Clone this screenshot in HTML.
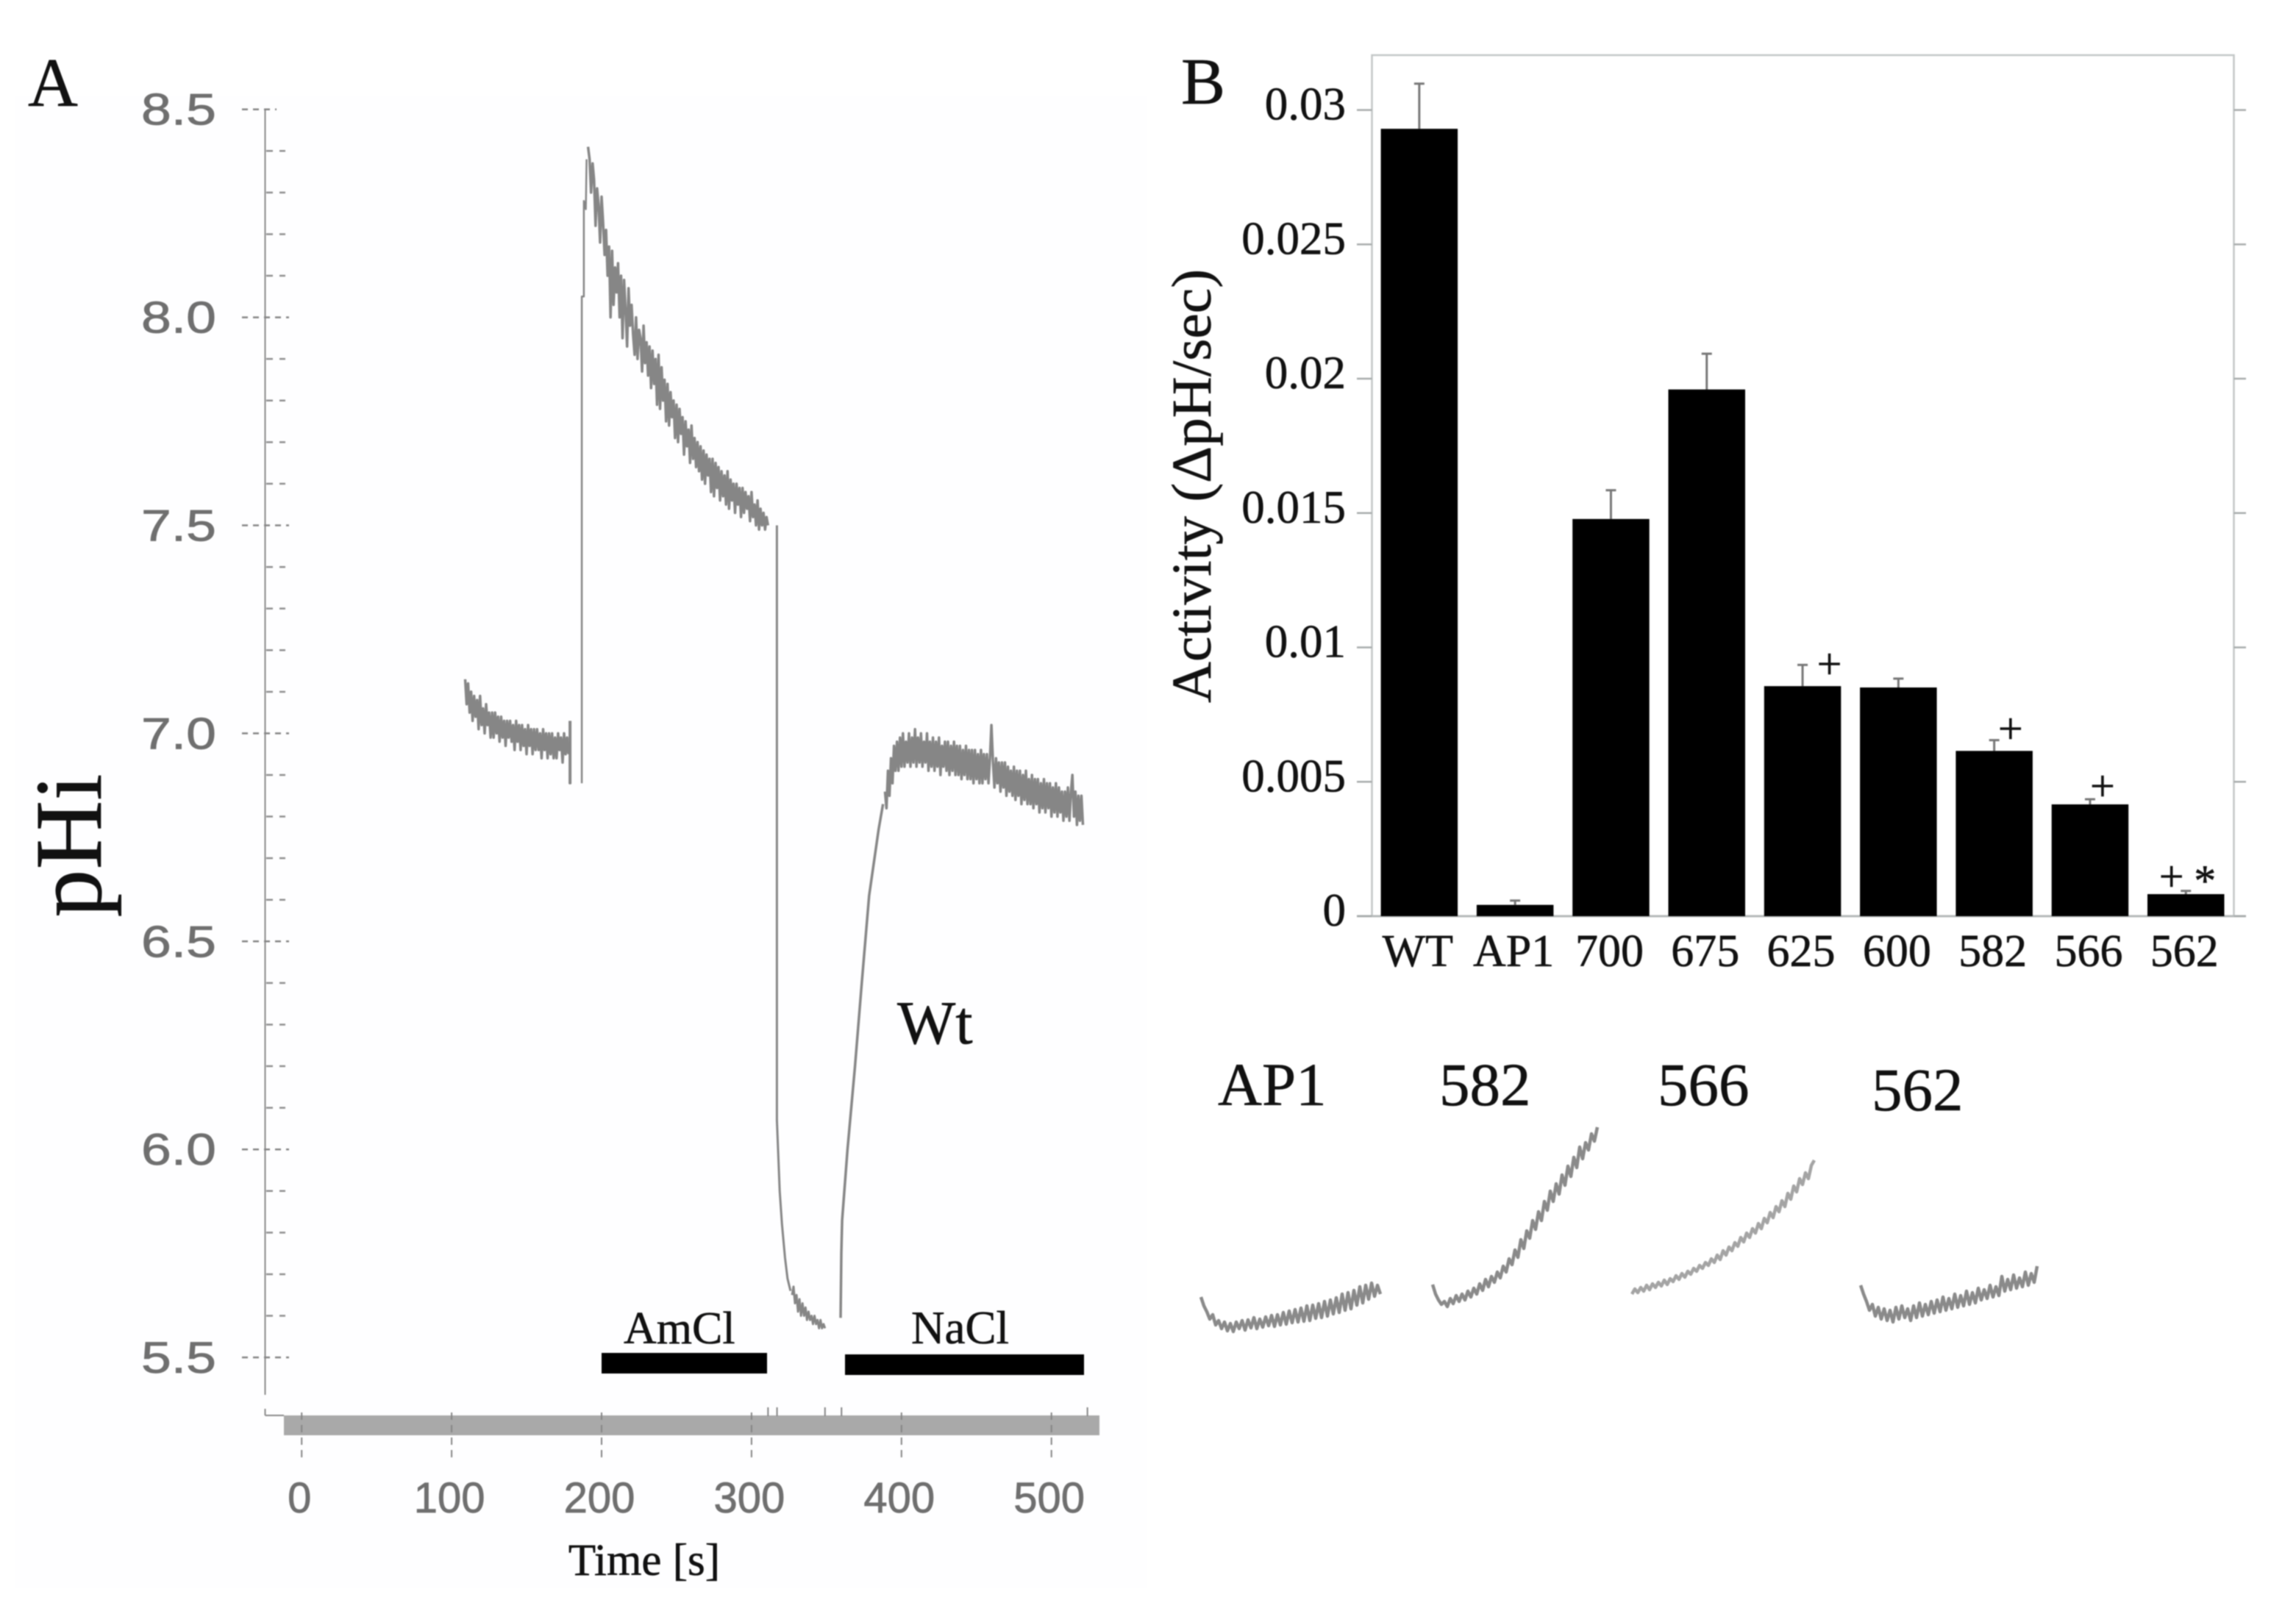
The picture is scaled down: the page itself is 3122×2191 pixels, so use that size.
<!DOCTYPE html>
<html lang="en">
<head>
<meta charset="utf-8">
<title>Intracellular pH recovery and activity of truncation mutants</title>
<style>
html,body{margin:0;padding:0;background:#fff;}
svg{display:block;filter:blur(0.7px);}
text{font-family:"Liberation Serif","DejaVu Serif",serif;fill:#111;stroke:#111;stroke-width:0.6px;}
.sans{font-family:"Liberation Sans","DejaVu Sans",sans-serif;fill:#6f6f6f;stroke:#6f6f6f;stroke-width:0.8px;}
</style>
</head>
<body>
<svg id="figure" xmlns="http://www.w3.org/2000/svg" width="3122" height="2191" viewBox="0 0 3122 2191">
  <rect x="0" y="0" width="3122" height="2191" fill="#ffffff"/>
  <rect x="20" y="130" width="1540" height="2030" fill="#fefeff"/>
  <g id="panel-a"></g>
  <g id="panel-b"></g>
  <g id="insets"></g>

  <text x="38" y="144" font-size="94">A</text>
  <text x="1606" y="141" font-size="90">B</text>
  <text transform="translate(137 1150) rotate(-90)" text-anchor="middle" font-size="130">pHi</text>
  <text x="876" y="2142" text-anchor="middle" font-size="61">Time [s]</text>
  <text x="1220" y="1419" font-size="84">Wt</text>
  <text x="848" y="1827" font-size="62">AmCl</text>
  <text x="1239" y="1827" font-size="63">NaCl</text>
  <rect x="818" y="1840" width="225" height="28" fill="#000"/>
  <rect x="1149" y="1842" width="325" height="28" fill="#000"/>
  <text transform="translate(1646 661) rotate(-90)" text-anchor="middle" font-size="76" textLength="590" lengthAdjust="spacingAndGlyphs">Activity (ΔpH/sec)</text>
  <text x="1656" y="1503" font-size="83">AP1</text>
  <text x="1957" y="1503" font-size="83">582</text>
  <text x="2254" y="1503" font-size="83">566</text>
  <text x="2545" y="1510" font-size="83">562</text>
</svg>

<script>
// ---- Panel A data: pH trace of wild type over time ----
const timeTicks = [0, 100, 200, 300, 400, 500];
const phTicks = [8.5, 8.0, 7.5, 7.0, 6.5, 6.0, 5.5];
const phTickLabels = ['8.5', '8.0', '7.5', '7.0', '6.5', '6.0', '5.5'];
const eventTimes = [311, 317, 349, 360, 524];

const restStart = 109;
const restPh = [7.13,7.07,7.12,7.05,7.10,7.03,7.09,7.04,7.08,7.01,
7.09,7.02,7.06,7.00,7.07,7.02,7.05,6.99,7.05,6.99,
7.05,7.00,7.04,6.98,7.04,6.99,7.03,6.97,7.03,6.99,
7.03,6.98,7.02,6.96,7.03,6.98,7.02,6.96,7.02,6.97,
7.01,6.95,7.02,6.97,7.01,6.95,7.01,6.96,7.01,6.96,
7.00,6.94,7.01,6.96,7.00,6.94,7.00,6.95,7.00,6.94,
6.99,6.94,7.00,6.96,6.99,6.93,7.00,6.95,6.99,6.95];

const artifactTime = [178.7, 178.7, 179.2, 179.2];
const artifactPh = [7.03, 6.88, 6.88, 7.03];

const riseTime = [186.8, 186.8, 188.2, 188.2, 189.5, 190];
const risePh = [6.88, 8.05, 8.05, 8.28, 8.26, 8.38];

const decayStart = 191;
const decayPh = [8.41,8.38,8.30,8.37,8.33,8.22,8.31,8.27,8.18,8.29,
8.23,8.15,8.21,8.10,8.17,8.00,8.16,8.03,8.12,8.06,
8.13,8.00,8.10,7.95,8.09,8.02,7.93,8.07,7.98,8.03,
7.96,7.91,8.00,7.90,7.97,7.95,7.87,7.98,7.89,7.94,
7.86,7.93,7.83,7.92,7.84,7.90,7.79,7.91,7.78,7.88,
7.80,7.85,7.75,7.84,7.74,7.82,7.76,7.80,7.71,7.79,
7.70,7.78,7.72,7.76,7.67,7.75,7.69,7.73,7.65,7.74,
7.66,7.71,7.64,7.70,7.63,7.69,7.61,7.68,7.60,7.67,
7.62,7.66,7.58,7.66,7.57,7.65,7.59,7.64,7.56,7.63,
7.57,7.62,7.55,7.63,7.54,7.61,7.56,7.60,7.53,7.60,
7.55,7.59,7.52,7.59,7.53,7.58,7.54,7.57,7.51,7.58,
7.52,7.55,7.50,7.56,7.49,7.54,7.50,7.53,7.49,7.52,7.50];

const dropTime = [316.9, 316.9, 318.8, 320.3, 322.3, 324, 326];
const dropPh = [7.50, 6.07, 5.90, 5.82, 5.74, 5.69, 5.66];

const troughStart = 327;
const troughPh = [5.65,5.67,5.63,5.65,5.61,5.64,5.60,5.63,5.60,5.62,5.59,5.61,5.59,5.60,5.58,5.60,5.58,5.59,5.57,5.59,5.57,5.58,5.57];

const recoveryTime = [359.4, 359.9, 360.4, 364, 369, 373.5, 378.4, 384.8, 387.7];
const recoveryPh = [5.595, 5.75, 5.83, 6.0, 6.2, 6.4, 6.61, 6.77, 6.83];

const plateauStart = 389;
const plateauPh = [6.86,6.82,6.91,6.85,6.94,6.88,6.97,6.91,6.98,6.91,
6.99,6.92,7.00,6.92,6.98,6.93,7.00,6.92,6.99,6.93,
7.01,6.92,6.99,6.93,7.00,6.92,6.98,6.93,7.00,6.91,
6.98,6.92,6.99,6.91,6.98,6.92,6.99,6.90,6.97,6.92,
6.98,6.91,6.98,6.90,6.97,6.91,6.98,6.90,6.97,6.90,
6.97,6.89,6.96,6.90,6.97,6.89,6.96,6.89,6.96,6.88,
6.96,6.89,6.95,6.88,6.96,6.88,6.95,6.89,6.95,6.88,
6.94,7.02,6.93,6.87,6.94,6.88,6.93,6.86,6.93,6.87,
6.93,6.85,6.92,6.86,6.91,6.85,6.92,6.84,6.91,6.85,
6.91,6.83,6.90,6.84,6.91,6.83,6.89,6.83,6.90,6.82,
6.89,6.83,6.89,6.81,6.88,6.82,6.89,6.81,6.88,6.82,
6.88,6.80,6.87,6.81,6.88,6.80,6.87,6.81,6.86,6.79,
6.86,6.80,6.87,6.79,6.86,6.90,6.80,6.86,6.78,6.85,
6.79,6.85,6.78];

// ---- Panel B data: activity per construct ----
const constructs = ['WT', 'AP1', '700', '675', '625', '600', '582', '566', '562'];
const activity = [0.0293, 0.00042, 0.01478, 0.0196, 0.00856, 0.00851, 0.00615, 0.00416, 0.00082];
const activityErrorTop = [0.03098, 0.00058, 0.01585, 0.02093, 0.00935, 0.00884, 0.00655, 0.00435, 0.00094];
const activityTicks = [0.03, 0.025, 0.02, 0.015, 0.01, 0.005, 0];
const activityTickLabels = ['0.03', '0.025', '0.02', '0.015', '0.01', '0.005', '0'];

const markerConstruct = ['625', '582', '566', '562', '562'];
const markerGlyph = ['+', '+', '+', '+', '*'];
const markerValue = [0.00939, 0.00698, 0.00484, 0.00148, 0.00148];
const markerBandShift = [0.28, 0.17, 0.13, -0.15, 0.2];

// ---- Inset data: signal samples of four mutant traces ----
const insetNames = ['ap1', '582', '566', '562'];
const insetStartSignal = [1633, 1948, 2219, 2530];
const signalAp1 = [46,34,26,16,22,8,14,3,12,0,10,-1,12,3,14,1,15,4,18,3,16,5,19,7,21,6,22,8,25,9,27,11,29,12,31,13,34,14,35,17,37,18,40,20,42,23,45,25,50,28,52,30,55,35,60,38,62,43,65,47,62,50];
const signal582 = [63,50,42,36,40,33,44,37,48,40,50,42,54,46,58,50,64,55,70,60,74,66,80,72,88,80,98,90,110,100,124,112,136,126,150,138,162,150,176,164,190,176,200,186,212,198,224,210,236,222,250,234,256,246,268,258,277];
const signal566 = [50,57,52,59,54,62,56,64,59,66,61,69,63,71,67,75,70,78,73,81,77,85,81,89,85,93,89,98,93,103,97,109,103,114,109,120,115,127,121,133,127,139,133,146,139,153,147,161,154,169,162,177,169,187,179,197,189,207,199,215,207,225,232];
const signal562 = [62,50,40,28,36,20,32,16,30,14,28,12,32,16,34,18,30,14,34,18,38,20,36,22,40,24,42,26,46,28,44,30,50,32,48,34,54,36,52,38,58,42,56,44,62,46,60,48,74,54,70,56,76,58,72,60,80,62,78,66,88];
const insetSignals = [signalAp1, signal582, signal566, signal562];

// ---- Axis functions ----
const SVGNS = 'http://www.w3.org/2000/svg';
const xTime = t => 410.2 + 2.039 * t;
const yPh = p => 148.7 + (8.5 - p) * 565.8;
const yActivity = v => 1246 - v * 36547;
const bandLeft = i => 1877.6 + i * 130.3;
const BAR_W = 104.5;
const xSample = (start, i) => start + i * 4;
const ySignal = s => 1810 - s;

function make(parent, tag, attrs, txt) {
  const node = document.createElementNS(SVGNS, tag);
  for (const k in attrs) node.setAttribute(k, attrs[k]);
  if (txt !== undefined) node.textContent = txt;
  parent.appendChild(node);
  return node;
}
const toPoints = (ts, ps) => ts.map((t, i) => xTime(t).toFixed(1) + ',' + yPh(ps[i]).toFixed(1)).join(' ');
const seqPoints = (start, ps) => ps.map((p, i) => xTime(start + i).toFixed(1) + ',' + yPh(p).toFixed(1)).join(' ');

// ---- Panel A ----
const A = document.getElementById('panel-a');
let n;

n = make(A, 'line', {x1: 360.5, x2: 360.5, y1: 148, y2: 1897, stroke: '#8a8a8a', 'stroke-width': 2});



const minorSteps = 5;
phTicks.forEach((p, i) => {
  const y = yPh(p);
  const major = make(A, 'line', {x1: 329, x2: i === 0 ? 376 : 393, y1: y, y2: y, stroke: '#858585', 'stroke-width': 2.5, 'stroke-dasharray': '8 7'});
  
  
  const label = make(A, 'text', {x: 192, y: y + 21, 'font-size': 60, textLength: 102, lengthAdjust: 'spacingAndGlyphs', class: 'sans'}, phTickLabels[i]);
  
  
  if (i < phTicks.length - 1) {
    for (let m = 1; m < minorSteps; m++) {
      const ym = y + (yPh(phTicks[i + 1]) - y) * m / minorSteps;
      const minor = make(A, 'line', {x1: 362, x2: 388, y1: ym, y2: ym, stroke: '#8f8f8f', 'stroke-width': 2.5, 'stroke-dasharray': '9 9'});
      
      
    }
  }
});

n = make(A, 'rect', {x: 386, y: 1925, width: 1109, height: 27, fill: '#a9a9a9'});


n = make(A, 'line', {x1: 360.5, x2: 386, y1: 1925, y2: 1925, stroke: '#8a8a8a', 'stroke-width': 2});


n = make(A, 'line', {x1: 360.5, x2: 360.5, y1: 1916, y2: 1925, stroke: '#8a8a8a', 'stroke-width': 2});



timeTicks.forEach(t => {
  const x = xTime(t);
  const tick = make(A, 'line', {x1: x, x2: x, y1: 1921, y2: 1982, stroke: '#858585', 'stroke-width': 2, 'stroke-dasharray': '10 7'});
  
  
  const label = make(A, 'text', {x: x - 3, y: 2057, 'font-size': 58, 'text-anchor': 'middle', class: 'sans'}, String(t));
  
  
});
eventTimes.forEach(t => {
  const x = xTime(t);
  const tick = make(A, 'line', {x1: x, x2: x, y1: 1914, y2: 1926, stroke: '#858585', 'stroke-width': 2});
  
  
});

const tracePieces = [
  ['trace-resting', seqPoints(restStart, restPh), 3.5],
  ['trace-artifact', toPoints(artifactTime, artifactPh), 3],
  ['trace-ammonium-rise', toPoints(riseTime, risePh), 2.5],
  ['trace-decay', seqPoints(decayStart, decayPh), 3.5],
  ['trace-drop', toPoints(dropTime, dropPh), 3],
  ['trace-trough', seqPoints(troughStart, troughPh), 3],
  ['trace-recovery', toPoints(recoveryTime, recoveryPh), 3.5],
  ['trace-plateau', seqPoints(plateauStart, plateauPh), 3.5]
];
tracePieces.forEach(piece => {
  const line = make(A, 'polyline', {points: piece[1], fill: 'none', stroke: '#868686', 'stroke-width': piece[2], 'stroke-linejoin': 'round'});
  
  
});

// ---- Panel B ----
const B = document.getElementById('panel-b');
n = make(B, 'path', {d: 'M1865.5 1246V75H3037.5V1246', fill: 'none', stroke: '#c3c7c7', 'stroke-width': 2.5});


n = make(B, 'line', {x1: 1845, x2: 3054, y1: 1246, y2: 1246, stroke: '#b5b9b9', 'stroke-width': 3});



activityTicks.forEach((v, i) => {
  const y = yActivity(v);
  const left = make(B, 'line', {x1: 1845, x2: 1865.5, y1: y, y2: y, stroke: '#a8acac', 'stroke-width': 2.5});
  
  
  const right = make(B, 'line', {x1: 3037.5, x2: 3054, y1: y, y2: y, stroke: '#a8acac', 'stroke-width': 2.5});
  
  
  const label = make(B, 'text', {x: 1830, y: y + 13, 'font-size': 63, 'text-anchor': 'end'}, activityTickLabels[i]);
  
  
});

constructs.forEach((c, i) => {
  const x = bandLeft(i);
  const cx = x + BAR_W / 2;
  const stem = make(B, 'line', {x1: cx, x2: cx, y1: yActivity(activityErrorTop[i]), y2: yActivity(activity[i]), stroke: '#777', 'stroke-width': 3});
  
  
  const cap = make(B, 'line', {x1: cx - 7, x2: cx + 7, y1: yActivity(activityErrorTop[i]), y2: yActivity(activityErrorTop[i]), stroke: '#777', 'stroke-width': 3});
  
  
  const bar = make(B, 'rect', {x: x, y: yActivity(activity[i]), width: BAR_W, height: yActivity(0) - yActivity(activity[i]), fill: '#000'});
  
  
  const label = make(B, 'text', {x: cx - 2, y: 1314, 'font-size': 62, 'text-anchor': 'middle'}, c);
  
  
});

markerConstruct.forEach((c, i) => {
  const idx = constructs.indexOf(c);
  const cx = bandLeft(idx) + BAR_W / 2 + markerBandShift[i] * 130.3;
  const star = markerGlyph[i] === '*';
  const mark = make(B, 'text', {x: cx, y: yActivity(markerValue[i]) + (star ? 26 : 20), 'font-size': star ? 60 : 60, 'text-anchor': 'middle'}, markerGlyph[i]);
  
  
});

// ---- Insets ----
const I = document.getElementById('insets');
insetSignals.forEach((sig, k) => {
  const pts = sig.map((s, i) => xSample(insetStartSignal[k], i).toFixed(1) + ',' + ySignal(s).toFixed(1)).join(' ');
  const line = make(I, 'polyline', {points: pts, fill: 'none', stroke: k === 2 ? '#a4a4a4' : '#8a8a8a', 'stroke-width': 4.5, 'stroke-linejoin': 'round'});
  
  
});
</script>
</body>
</html>
